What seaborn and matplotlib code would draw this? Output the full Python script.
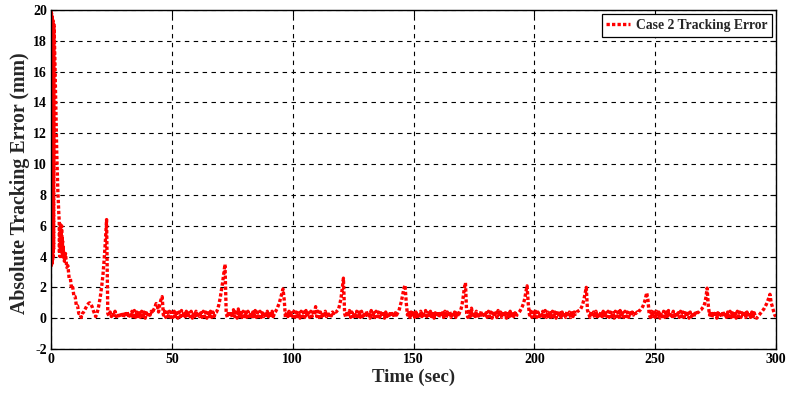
import numpy as np
import pandas as pd
import matplotlib
matplotlib.use("Agg")
import matplotlib.pyplot as plt
import seaborn as sns

# ---------------- data ----------------
# initial transient, 0.0 .. 4.9 s, step 0.1 s
time_init = np.round(np.arange(0.0, 4.95, 0.1), 2)
error_init = [
    20.0, 3.4, 19.8, 3.5, 19.6, 3.6, 19.4, 3.8, 19.3, 4.0,
    19.2, 4.5, 19.1, 18.8, 18.2, 17.5, 16.8, 16.0, 15.2, 14.4,
    13.6, 12.8, 12.0, 11.3, 10.6, 10.0, 9.4, 8.9, 8.4, 8.0,
    7.6, 7.2, 6.9, 6.6, 6.3, 4.2, 5.8, 4.0, 6.1, 4.5,
    5.9, 4.3, 5.6, 4.8, 6.0, 4.4, 5.2, 4.0, 5.0, 4.2,
]

# main record, 5.0 .. 300.0 s, step 0.5 s
time_main = np.round(np.arange(5.0, 300.25, 0.5), 2)
error_main = [
    # 5-9.5
    4.6, 3.7, 4.2, 3.3, 3.4, 2.6, 2.6, 1.9, 2.0, 1.4,
    # 10-19.5
    1.4, 0.8, 0.8, 0.3, 0.3, 0.05, 0.3, 0.4, 0.55, 0.7, 0.85, 0.95, 1.0, 0.9, 0.75, 0.5, 0.3, 0.1, 0.3, 0.6,
    # 20-29.5
    1.0, 1.5, 2.1, 2.8, 3.8, 5.0, 6.4, 0.3, 0.15, 0.4, 0.1, 0.35, 0.2, 0.45, 0.1, 0.3, 0.15, 0.35, 0.05, 0.25,
    # 30-39.5
    0.05, 0.4, 0.1, 0.45, 0.05, 0.35, 0.0, 0.45, 0.1, 0.5, 0.05, 0.4, 0.1, 0.35, 0.05, 0.45, 0.1, 0.4, 0.0, 0.35,
    # 40-49.5
    0.1, 0.4, 0.2, 0.45, 0.3, 0.55, 0.7, 0.95, 0.8, 0.4, 0.9, 1.2, 1.4, 0.2, 0.45, 0.05, 0.4, 0.1, 0.45, 0.05,
    # 50-59.5
    0.4, 0.05, 0.45, 0.1, 0.35, 0.0, 0.4, 0.1, 0.5, 0.05, 0.4, 0.1, 0.45, 0.05, 0.35, 0.1, 0.45, 0.0, 0.4, 0.1,
    # 60-69.5
    0.45, 0.05, 0.4, 0.1, 0.35, 0.05, 0.45, 0.1, 0.4, 0.0, 0.35, 0.1, 0.45, 0.05, 0.4, 0.1, 0.35, 0.4, 0.6, 0.9,
    # 70-79.5
    1.3, 1.8, 2.3, 2.9, 3.5, 0.3, 0.05, 0.45, 0.1, 0.4, 0.05, 0.55, 0.1, 0.4, 0.0, 0.6, 0.1, 0.35, 0.05, 0.45,
    # 80-89.5
    0.1, 0.4, 0.05, 0.45, 0.1, 0.35, 0.0, 0.4, 0.1, 0.5, 0.05, 0.4, 0.1, 0.45, 0.05, 0.35, 0.1, 0.4, 0.05, 0.45,
    # 90-99.5
    0.1, 0.4, 0.05, 0.45, 0.1, 0.35, 0.45, 0.6, 0.8, 1.0, 1.3, 1.6, 1.9, 1.2, 0.05, 0.4, 0.1, 0.45, 0.05, 0.35,
    # 100-109.5
    0.1, 0.45, 0.05, 0.4, 0.1, 0.35, 0.0, 0.45, 0.1, 0.4, 0.05, 0.5, 0.1, 0.35, 0.05, 0.45, 0.1, 0.4, 0.2, 0.75,
    # 110-119.5
    0.1, 0.45, 0.05, 0.4, 0.1, 0.35, 0.05, 0.45, 0.1, 0.4, 0.05, 0.35, 0.15, 0.4, 0.3, 0.45, 0.4, 0.5, 0.6, 0.9,
    # 120-129.5
    1.3, 1.9, 2.6, 0.3, 0.05, 0.45, 0.1, 0.5, 0.05, 0.4, 0.1, 0.35, 0.0, 0.45, 0.1, 0.4, 0.05, 0.45, 0.1, 0.35,
    # 130-139.5
    0.05, 0.45, 0.1, 0.4, 0.0, 0.5, 0.1, 0.35, 0.05, 0.45, 0.1, 0.4, 0.05, 0.35, 0.1, 0.45, 0.0, 0.4, 0.1, 0.35,
    # 140-149.5
    0.05, 0.45, 0.1, 0.4, 0.05, 0.35, 0.2, 0.35, 0.5, 0.8, 1.1, 1.5, 1.9, 2.15, 1.0, 0.2, 0.45, 0.05, 0.4, 0.1,
    # 150-159.5
    0.45, 0.05, 0.4, 0.1, 0.35, 0.0, 0.45, 0.1, 0.4, 0.05, 0.5, 0.1, 0.35, 0.05, 0.45, 0.1, 0.4, 0.0, 0.35, 0.1,
    # 160-169.5
    0.45, 0.05, 0.4, 0.1, 0.35, 0.05, 0.45, 0.0, 0.4, 0.1, 0.45, 0.05, 0.35, 0.1, 0.4, 0.05, 0.45, 0.1, 0.35, 0.5,
    # 170-179.5
    0.8, 1.3, 1.9, 2.3, 0.3, 0.05, 0.45, 0.1, 0.65, 0.05, 0.4, 0.1, 0.45, 0.0, 0.35, 0.1, 0.45, 0.05, 0.4, 0.1,
    # 180-189.5
    0.35, 0.05, 0.45, 0.1, 0.4, 0.0, 0.45, 0.1, 0.35, 0.05, 0.5, 0.1, 0.4, 0.05, 0.45, 0.1, 0.35, 0.0, 0.4, 0.1,
    # 190-199.5
    0.45, 0.05, 0.4, 0.1, 0.35, 0.1, 0.3, 0.35, 0.45, 0.6, 0.75, 0.95, 1.25, 1.7, 2.1, 0.9, 0.2, 0.45, 0.05, 0.4,
    # 200-209.5
    0.1, 0.45, 0.05, 0.4, 0.1, 0.35, 0.0, 0.45, 0.1, 0.5, 0.05, 0.4, 0.1, 0.35, 0.05, 0.45, 0.1, 0.4, 0.0, 0.35,
    # 210-219.5
    0.1, 0.45, 0.05, 0.4, 0.1, 0.35, 0.05, 0.45, 0.1, 0.4, 0.05, 0.35, 0.1, 0.4, 0.25, 0.4, 0.45, 0.5, 0.55, 0.7,
    # 220-229.5
    0.9, 1.2, 1.6, 2.0, 0.5, 0.3, 0.05, 0.45, 0.1, 0.4, 0.0, 0.45, 0.1, 0.35, 0.05, 0.4, 0.1, 0.45, 0.05, 0.35,
    # 230-239.5
    0.1, 0.45, 0.05, 0.4, 0.1, 0.35, 0.0, 0.45, 0.1, 0.4, 0.05, 0.5, 0.1, 0.35, 0.05, 0.45, 0.1, 0.4, 0.05, 0.35,
    # 240-249.5
    0.15, 0.4, 0.2, 0.45, 0.3, 0.4, 0.35, 0.5, 0.55, 0.65, 0.8, 1.0, 1.3, 1.65, 1.2, 0.3, 0.05, 0.45, 0.1, 0.4,
    # 250-259.5
    0.05, 0.45, 0.1, 0.4, 0.0, 0.35, 0.1, 0.45, 0.05, 0.4, 0.1, 0.5, 0.05, 0.35, 0.1, 0.45, 0.0, 0.4, 0.1, 0.35,
    # 260-269.5
    0.05, 0.45, 0.1, 0.4, 0.05, 0.35, 0.1, 0.45, 0.0, 0.4, 0.1, 0.35, 0.05, 0.45, 0.2, 0.35, 0.4, 0.5, 0.55, 0.65,
    # 270-279.5
    0.75, 0.95, 1.35, 1.95, 0.8, 0.2, 0.45, 0.05, 0.4, 0.1, 0.45, 0.0, 0.35, 0.1, 0.4, 0.05, 0.45, 0.1, 0.35, 0.05,
    # 280-289.5
    0.4, 0.1, 0.45, 0.05, 0.35, 0.1, 0.4, 0.0, 0.45, 0.1, 0.4, 0.05, 0.35, 0.1, 0.45, 0.05, 0.4, 0.1, 0.35, 0.05,
    # 290-299.5
    0.4, 0.1, 0.35, 0.05, 0.0, 0.1, 0.2, 0.3, 0.4, 0.5, 0.6, 0.75, 0.9, 1.1, 1.3, 1.55, 1.0, 0.75, 0.45, 0.2,
    # 300
    0.1,
]

x_ticks = [0, 50, 100, 150, 200, 250, 300]
y_ticks = [-2, 0, 2, 4, 6, 8, 10, 12, 14, 16, 18, 20]
series_label = "Case 2 Tracking Error"
x_label = "Time (sec)"
y_label = "Absolute Tracking Error (mm)"

n = min(len(time_main), len(error_main))
df = pd.DataFrame({
    "time": np.concatenate([time_init, time_main[:n]]),
    "error": np.concatenate([error_init, error_main[:n]]),
})

# ---------------- style ----------------
sns.set_style("ticks")
plt.rcParams["font.family"] = ["Liberation Serif", "DejaVu Serif"]
plt.rcParams["font.weight"] = "bold"
plt.rcParams["axes.labelweight"] = "bold"

fig = plt.figure(figsize=(7.89, 3.94), dpi=100)
ax = fig.add_axes([51 / 789, 1 - 349 / 394, 725 / 789, 339 / 394])

sns.lineplot(data=df, x="time", y="error", ax=ax, color="#ff0000",
             linewidth=2.4, estimator=None, sort=False, label=series_label)
line = ax.lines[0]
line.set_linestyle((0, (1, 0.65)))
line.set_dash_capstyle("butt")

ax.set_xlim(0, 300)
ax.set_ylim(-2, 20)
ax.set_xticks(x_ticks)
ax.set_yticks(y_ticks)
ax.set_xticklabels([str(v) for v in x_ticks], fontsize=10, fontweight="bold")
ax.set_yticklabels([str(v) for v in y_ticks], fontsize=10, fontweight="bold")
ax.tick_params(direction="in", length=4, width=0.8, top=True, right=True,
               colors="black", pad=3)
ax.grid(True, color="black", linestyle=(0, (4, 4)), linewidth=0.8)
for s in ax.spines.values():
    s.set_visible(True)
    s.set_color("black")
    s.set_linewidth(1.0)

ax.set_xlabel(x_label, fontsize=13.6, fontweight="bold", labelpad=2)
ax.set_ylabel(y_label, fontsize=14.3, fontweight="bold")
ax.yaxis.set_label_coords(-0.029, 0.49)

leg = ax.legend(loc="upper right", frameon=True, fancybox=False,
                borderaxespad=0.3, handlelength=1.7, handletextpad=0.45,
                borderpad=0.35, prop={"weight": "bold", "size": 9.8})
leg.get_frame().set_edgecolor("black")
leg.get_frame().set_linewidth(0.9)
leg.get_frame().set_alpha(1)
for h in leg.get_lines():
    h.set_linestyle((0, (1, 0.65)))
    h.set_linewidth(2.4)

fig.savefig("out.png", dpi=100, facecolor="white")
